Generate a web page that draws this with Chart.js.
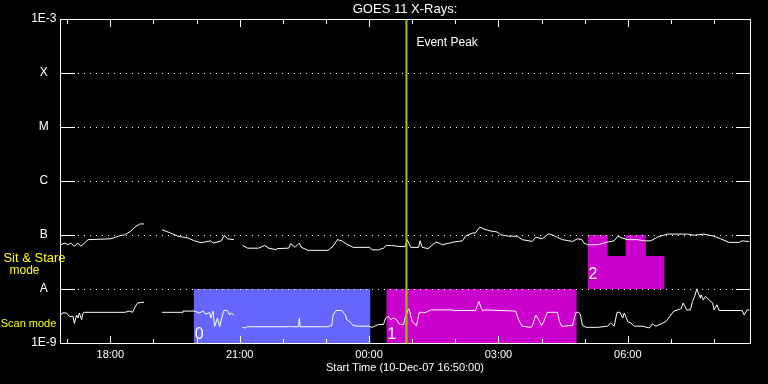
<!DOCTYPE html>
<html><head><meta charset="utf-8">
<script src="https://cdn.jsdelivr.net/npm/chart.js@4.4.1/dist/chart.umd.min.js"></script>
<style>html,body{margin:0;padding:0;background:#000;}canvas{display:block;}</style>
</head><body>
<canvas id="c" width="768" height="384" style="width:768px;height:384px"></canvas>
<script>
const chartTitle = 'GOES 11 X-Rays:';
const xTitle = 'Start Time (10-Dec-07 16:50:00)';
// time axis in minutes after 10-Dec-07 16:50 UT
const xMin = 0, xMax = 960;
const xTickMinutes = [70, 250, 430, 610, 790];
const xTickLabels = ['18:00', '21:00', '00:00', '03:00', '06:00'];
const hourMinutes = [10, 70, 130, 190, 250, 310, 370, 430, 490, 550, 610, 670, 730, 790, 850, 910];
const yTickValues = [1e-3, 1e-4, 1e-5, 1e-6, 1e-7, 1e-8, 1e-9];
const yTickLabels = ['1E-3', 'X', 'M', 'C', 'B', 'A', '1E-9'];

// long channel (1-8 A)
const longTime = [
  1,7,11,15,20,25,29,34,39,71,
  81,90,97,104,111,117,130,142,150,164,
  178,187,196,210,213,224,229,233,242,248,
  254,261,276,285,290,301,302,318,321,327,
  333,336,345,373,380,386,392,397,408,431,
  434,443,450,454,461,473,480,483,488,499,
  501,504,512,523,527,532,548,560,564,574,
  578,584,590,597,608,613,624,636,643,657,
  662,671,680,689,699,713,720,726,729,734,
  748,762,771,776,782,789,803,813,822,831,
  845,873,882,896,910,919,931,945,949,956,
  959];
const longFlux = [
  6.6e-8,7.1e-8,6.6e-8,7.1e-8,6.2e-8,7.1e-8,6.2e-8,7.1e-8,8.2e-8,8.5e-8,
  9.5e-8,1.01e-7,1.14e-7,1.39e-7,1.6e-7,1.6e-7,null,1.25e-7,1.14e-7,9.5e-8,
  8.8e-8,7.8e-8,7.2e-8,7.8e-8,7.1e-8,7.7e-8,9.9e-8,8.5e-8,8.2e-8,null,
  6.4e-8,5.7e-8,5.7e-8,6.4e-8,5.7e-8,5.35e-8,5.6e-8,5.7e-8,6.9e-8,5.9e-8,
  7.1e-8,5.9e-8,5.2e-8,5.2e-8,6.2e-8,8.2e-8,7.8e-8,7.0e-8,5.9e-8,5.9e-8,
  5.3e-8,5.3e-8,5.7e-8,6.4e-8,6.4e-8,6.1e-8,6.1e-8,8.2e-8,5.9e-8,5.9e-8,
  7.8e-8,5.9e-8,5.6e-8,7.4e-8,7.1e-8,6.6e-8,7.4e-8,7.8e-8,9.5e-8,1.09e-7,
  1.09e-7,1.39e-7,1.29e-7,1.2e-7,1.14e-7,1.01e-7,9.5e-8,9.5e-8,8.2e-8,7.6e-8,
  9.1e-8,8.5e-8,1.06e-7,9.5e-8,8.2e-8,7.6e-8,8.5e-8,8.2e-8,7.1e-8,6.6e-8,
  6.6e-8,7.4e-8,7.8e-8,9.5e-8,8.8e-8,8.2e-8,8.2e-8,7.8e-8,7.8e-8,9.1e-8,
  1.04e-7,1.04e-7,9.9e-8,1.04e-7,9.5e-8,8.5e-8,7.3e-8,7.3e-8,7.8e-8,7.6e-8,
  7.6e-8];

// short channel (0.5-4 A)
const shortTime = [
  1,3,9,13,18,20,23,25,27,30,
  32,34,90,97,101,105,108,117,130,142,
  169,170,171,187,194,199,203,208,210,213,
  215,219,222,225,228,233,236,238,242,248,
  254,258,261,318,320,322,332,333,334,373,
  376,378,380,384,392,397,399,403,408,415,
  429,434,438,443,450,453,457,460,464,468,
  472,475,478,480,485,486,490,494,496,499,
  500,504,506,509,516,546,548,578,583,585,
  588,592,634,638,643,655,657,662,666,670,
  673,678,692,695,698,703,708,713,715,718,
  722,724,727,732,748,762,766,771,775,779,
  783,785,790,794,799,810,820,824,829,836,
  843,850,854,864,867,872,877,880,883,886,
  888,891,892,895,898,903,908,910,914,917,
  924,949,952,956,959];
const shortFlux = [
  3.3e-9,3.6e-9,3.6e-9,3.1e-9,3.1e-9,2.3e-9,3.3e-9,2.9e-9,3.6e-9,2.7e-9,
  3.6e-9,3.7e-9,3.7e-9,3.9e-9,3.7e-9,4.8e-9,5.5e-9,5.7e-9,null,3.7e-9,
  3.7e-9,3.6e-9,3.9e-9,3.9e-9,3.6e-9,3.9e-9,3.4e-9,3.7e-9,2.9e-9,3.9e-9,
  2.0e-9,2.9e-9,2.0e-9,2.9e-9,4.0e-9,4.0e-9,3.3e-9,3.6e-9,3.3e-9,null,
  1.95e-9,1.9e-9,2.0e-9,2.0e-9,2.05e-9,2.0e-9,2.0e-9,2.9e-9,2.0e-9,2.0e-9,
  2.1e-9,2.05e-9,3.3e-9,4.0e-9,4.0e-9,3.3e-9,2.7e-9,2.5e-9,2.1e-9,2.05e-9,
  2.05e-9,1.95e-9,2.05e-9,2.2e-9,2.2e-9,2.9e-9,3.1e-9,2.7e-9,2.9e-9,2.7e-9,
  2.25e-9,2.2e-9,2.2e-9,2.9e-9,4.3e-9,4.1e-9,2.5e-9,2.2e-9,2.1e-9,3.3e-9,
  3.7e-9,3.7e-9,3.6e-9,3.7e-9,4.1e-9,4.1e-9,4.0e-9,4.0e-9,5.9e-9,4.8e-9,
  4.0e-9,4.1e-9,3.9e-9,2.7e-9,2.05e-9,1.95e-9,2.05e-9,3.3e-9,2.7e-9,2.1e-9,
  2.5e-9,3.7e-9,3.7e-9,2.5e-9,2.05e-9,2.05e-9,2.1e-9,2.1e-9,2.7e-9,3.7e-9,
  3.7e-9,3.3e-9,2.1e-9,1.95e-9,1.95e-9,2.05e-9,2.35e-9,2.05e-9,3.7e-9,3.7e-9,
  2.9e-9,3.6e-9,2.5e-9,2.35e-9,2.05e-9,2.05e-9,1.9e-9,2.25e-9,2.05e-9,2.25e-9,
  2.5e-9,3.3e-9,3.9e-9,4.3e-9,5.5e-9,4.1e-9,4.1e-9,5.9e-9,7.3e-9,1.01e-8,
  8.4e-9,6.8e-9,7.8e-9,6.3e-9,7.3e-9,6.3e-9,5.5e-9,4.1e-9,5.1e-9,4.0e-9,
  4.0e-9,4.0e-9,3.3e-9,4.1e-9,4.1e-9];

// observing-mode bands
const scanMode0 = [186, 432];
const scanMode1 = [454, 719];
const scanTop = 1e-8;
const stareTime = [734, 762, 787, 815, 841];
const stareFlux = [1e-7, 4.1e-8, 1e-7, 4.1e-8, 4.1e-8];
const stareBase = 1e-8;
const eventPeak = 482;
const modeLabels = ['0', '1', '2'];

const FONT = '"Liberation Sans", Arial, sans-serif';
const pts = (t, f) => t.map((v, i) => ({x: v, y: f[i]}));

const framePlugin = {
  id: 'frame',
  afterDatasetsDraw(chart) {
    const {ctx, chartArea: a, scales: {x, y}} = chart;
    const L = Math.round(a.left), R = Math.round(a.right), T = Math.round(a.top), B = Math.round(a.bottom);
    ctx.save();
    ctx.fillStyle = '#fff';
    yTickValues.forEach((v, i) => {
      if (i === 0 || i === yTickValues.length - 1) return;
      const py = Math.round(y.getPixelForValue(v));
      ctx.fillRect(L, py, 15, 1);
      ctx.fillRect(R - 14, py, 15, 1);
      for (let px = L + 18; px < R - 16; px += 6) ctx.fillRect(px, py, 1, 1);
    });
    hourMinutes.forEach(m => {
      const px = Math.round(x.getPixelForValue(m));
      const len = xTickMinutes.includes(m) ? 7 : 4;
      ctx.fillRect(px, B - len, 1, len);
      ctx.fillRect(px, T + 1, 1, len);
    });
    ctx.fillRect(L, T, R - L + 1, 1);
    ctx.fillRect(L, B, R - L + 1, 1);
    ctx.fillRect(L, T, 1, B - T + 1);
    ctx.fillRect(R, T, 1, B - T + 1);

    // Event peak label
    const gx = x.getPixelForValue(eventPeak);
    ctx.font = '12px ' + FONT;
    ctx.textAlign = 'left';
    ctx.textBaseline = 'middle';
    ctx.fillText('Event Peak', gx + 10, T + 24);

    // mode numbers
    ctx.font = '16px ' + FONT;
    ctx.textBaseline = 'alphabetic';
    ctx.fillText(modeLabels[0], x.getPixelForValue(scanMode0[0]) + 1, B - 4);
    ctx.fillText(modeLabels[1], x.getPixelForValue(scanMode1[0]) + 1, B - 4);
    ctx.fillText(modeLabels[2], x.getPixelForValue(stareTime[0]) + 1, y.getPixelForValue(stareBase) - 10);

    // mode names at left
    ctx.fillStyle = '#ffff00';
    ctx.textAlign = 'center';
    ctx.textBaseline = 'middle';
    ctx.font = '13px ' + FONT;
    ctx.fillText('Sit & Stare', 34.5, 258);
    ctx.font = '12px ' + FONT;
    ctx.fillText('mode', 24.5, 271);
    ctx.font = '11px ' + FONT;
    ctx.fillText('Scan mode', 28.5, 323.5);
    ctx.restore();
  }
};

new Chart(document.getElementById('c'), {
  type: 'line',
  data: {
    datasets: [
      {label: 'Event Peak', data: [{x: eventPeak, y: 1e-9}, {x: eventPeak, y: 1e-3}],
       borderColor: '#9ccc00', borderWidth: 2, pointRadius: 0, fill: false, order: 0},
      {label: 'GOES 1-8 A', data: pts(longTime, longFlux), borderColor: '#ffffff', borderWidth: 1,
       pointRadius: 0, fill: false, spanGaps: false, tension: 0, order: 1},
      {label: 'GOES 0.5-4 A', data: pts(shortTime, shortFlux), borderColor: '#ffffff', borderWidth: 1,
       pointRadius: 0, fill: false, spanGaps: false, tension: 0, order: 1},
      {label: 'Scan mode 0', data: [{x: scanMode0[0], y: scanTop}, {x: scanMode0[1], y: scanTop}],
       borderColor: 'rgba(0,0,0,0)', borderWidth: 0, backgroundColor: '#6666ff', pointRadius: 0, fill: 'start', order: 2},
      {label: 'Scan mode 1', data: [{x: scanMode1[0], y: scanTop}, {x: scanMode1[1], y: scanTop}],
       borderColor: 'rgba(0,0,0,0)', borderWidth: 0, backgroundColor: '#cc00cc', pointRadius: 0, fill: 'start', order: 2},
      {label: 'Sit & Stare 2', data: pts(stareTime, stareFlux), stepped: 'before',
       borderColor: 'rgba(0,0,0,0)', borderWidth: 0, backgroundColor: '#cc00cc', pointRadius: 0, fill: {value: stareBase}, order: 2}
    ]
  },
  options: {
    responsive: false,
    animation: false,
    devicePixelRatio: 1,
    layout: {padding: {left: 28, right: 18, top: 0, bottom: 0}},
    plugins: {
      legend: {display: false},
      tooltip: {enabled: false},
      title: {display: true, text: chartTitle, color: '#ffffff', fullSize: false,
        font: {family: FONT, size: 13, weight: 'normal'}, padding: {top: 1.2, bottom: 2.2}}
    },
    scales: {
      x: {
        type: 'linear', min: xMin, max: xMax, position: 'bottom',
        afterBuildTicks: s => { s.ticks = xTickMinutes.map(v => ({value: v})); },
        afterFit: s => { s.height = 41; },
        ticks: {color: '#ffffff', font: {family: FONT, size: 11}, padding: 5, maxRotation: 0, autoSkip: false,
          callback: (v, i) => xTickLabels[i]},
        grid: {display: false, drawTicks: false},
        border: {display: false},
        title: {display: true, text: xTitle, color: '#ffffff', font: {family: FONT, size: 11},
          padding: {top: 0, bottom: 9.4}}
      },
      y: {
        type: 'logarithmic', min: 1e-9, max: 1e-3, position: 'left',
        afterBuildTicks: s => { s.ticks = yTickValues.map(v => ({value: v})); },
        afterFit: s => { s.width = 32; },
        ticks: {color: '#ffffff', font: {family: FONT, size: 12}, padding: 3.5, crossAlign: 'center', autoSkip: false,
          callback: (v, i) => yTickLabels[i]},
        grid: {display: false, drawTicks: false},
        border: {display: false}
      }
    }
  },
  plugins: [framePlugin]
});
</script>
</body></html>
